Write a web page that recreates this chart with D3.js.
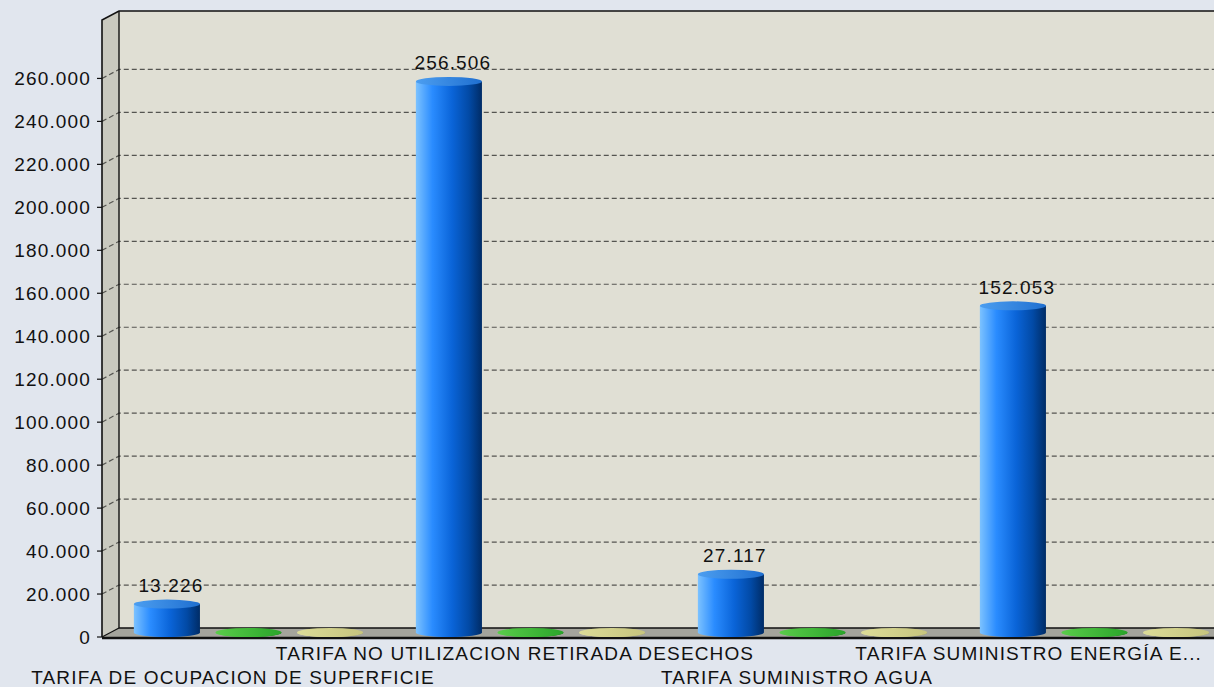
<!DOCTYPE html>
<html>
<head>
<meta charset="utf-8">
<script src="https://cdn.jsdelivr.net/npm/d3@7"></script>
<style>
  html, body { margin: 0; padding: 0; background: #e1e6ee; }
  svg { display: block; }
  text { font-family: "Liberation Sans", Arial, sans-serif; fill: #111; }
</style>
</head>
<body>
<svg id="chart" width="1214" height="687"></svg>
<script>
// Chart data
const categories = [
  "TARIFA DE OCUPACION DE SUPERFICIE",
  "TARIFA NO UTILIZACION RETIRADA DESECHOS",
  "TARIFA SUMINISTRO AGUA",
  "TARIFA SUMINISTRO ENERGÍA E..."
];
const seriesNames = ["Importe", "Pendiente", "Anulado"];
const importeValues = [13226, 256506, 27117, 152053];
const pendienteValues = [0, 0, 0, 0];
const anuladoValues = [0, 0, 0, 0];
const tickValues = [0, 20000, 40000, 60000, 80000, 100000, 120000, 140000, 160000, 180000, 200000, 220000, 240000, 260000];

const seriesValues = [importeValues, pendienteValues, anuladoValues];

const W = 1214, H = 687;
const svg = d3.select("#chart");

// 3D depth offset of the plot box
const DX = 17, DY = -9;
const plotLeft = 102, plotRight = 1240, plotTop = 20, plotBottom = 637;
const LS = "1.15px";

const fmt = d3.formatLocale({ decimal: ",", thousands: ".", grouping: [3], currency: ["", "€"] }).format(",d");

const y = d3.scaleLinear().domain([0, 287200]).range([plotBottom, plotTop]);
const x0 = d3.scaleBand().domain(categories).range([99, 1227]);
const x1 = d3.scaleBand().domain(seriesNames)
  .range([x0.bandwidth() * 0.066, x0.bandwidth() * 0.934]).paddingInner(0.19).paddingOuter(0.095);

const defs = svg.append("defs");
const palettes = [
  { body: ["#7cc2ff", "#2a8cff", "#0a64d8", "#024aa6", "#002c66"], top: ["#4c9ef0", "#1f6fd0"] },
  { body: ["#6fd86f", "#36b536", "#1e9a1e", "#157a15", "#0d5a0d"], top: ["#5acb4a", "#2aa52a"] },
  { body: ["#e6e6a8", "#d4d48c", "#c4c47a", "#aeae66", "#8f8f52"], top: ["#dcdc98", "#c6c47e"] }
];
palettes.forEach((p, i) => {
  const g = defs.append("linearGradient").attr("id", "body" + i).attr("x1", 0).attr("x2", 1).attr("y1", 0).attr("y2", 0);
  [0, 0.25, 0.55, 0.8, 1].forEach((o, k) => g.append("stop").attr("offset", o).attr("stop-color", p.body[k]));
  const t = defs.append("linearGradient").attr("id", "top" + i).attr("x1", 0).attr("x2", 1).attr("y1", 0).attr("y2", 0);
  t.append("stop").attr("offset", 0).attr("stop-color", p.top[0]);
  t.append("stop").attr("offset", 1).attr("stop-color", p.top[1]);
});

// Back wall
svg.append("rect")
  .attr("x", plotLeft + DX).attr("y", plotTop + DY)
  .attr("width", plotRight - plotLeft).attr("height", plotBottom - plotTop)
  .attr("fill", "#e0dfd4");

// Left side wall
svg.append("path")
  .attr("d", `M${plotLeft},${plotTop} L${plotLeft + DX},${plotTop + DY} L${plotLeft + DX},${plotBottom + DY} L${plotLeft},${plotBottom} Z`)
  .attr("fill", "#c9c9bf");

// Floor
svg.append("path")
  .attr("d", `M${plotLeft},${plotBottom} L${plotLeft + DX},${plotBottom + DY} L${plotRight + DX},${plotBottom + DY} L${plotRight},${plotBottom} Z`)
  .attr("fill", "#a4a49c");

// Gridlines (back wall + diagonal across side wall)
const grid = svg.append("g");
tickValues.filter(v => v > 0).forEach(v => {
  const yf = y(v);
  grid.append("path")
    .attr("d", `M${plotLeft},${yf} L${plotLeft + DX},${yf + DY} L${plotRight + DX},${yf + DY}`)
    .attr("fill", "none").attr("stroke", "#555551").attr("stroke-width", 1.2)
    .attr("stroke-dasharray", "5,3");
});

// Box edges
const edge = svg.append("g").attr("fill", "none").attr("stroke", "#111");
edge.append("path").attr("d", `M${plotLeft},${plotBottom} L${plotLeft},${plotTop} L${plotLeft + DX},${plotTop + DY} L${plotRight + DX},${plotTop + DY}`).attr("stroke-width", 1.6);
edge.append("path").attr("d", `M${plotLeft + DX},${plotTop + DY} L${plotLeft + DX},${plotBottom + DY} L${plotRight + DX},${plotBottom + DY}`).attr("stroke-width", 1.4);
edge.append("path").attr("d", `M${plotLeft},${plotBottom} L${plotLeft + DX},${plotBottom + DY}`).attr("stroke-width", 1.2);
edge.append("path").attr("d", `M${plotLeft},${plotBottom + 1} L${plotRight},${plotBottom + 1}`).attr("stroke-width", 2.4);

// Y axis ticks and labels
const yAxis = svg.append("g");
tickValues.forEach(v => {
  const yf = y(v);
  yAxis.append("line").attr("x1", plotLeft - 5).attr("x2", plotLeft).attr("y1", yf).attr("y2", yf)
    .attr("stroke", "#111").attr("stroke-width", 1.2);
  yAxis.append("text")
    .attr("x", 91).attr("y", yf).attr("dy", "0.36em")
    .attr("text-anchor", "end")
    .style("font-size", "19px").style("letter-spacing", LS)
    .text(fmt(v));
});

// Cylinders (drawn at mid depth)
const RY = 4.5;
const mx = DX / 2, my = DY / 2;
const bars = svg.append("g");
categories.forEach((c, ci) => {
  seriesNames.forEach((s, si) => {
    const v = seriesValues[si][ci];
    const cx = x0(c) + x1(s) + x1.bandwidth() / 2 + mx;
    const rx = x1.bandwidth() / 2;
    const yb = y(0) + my;
    const yt = y(v) + my;
    const g = bars.append("g");
    // body with rounded bottom
    g.append("path")
      .attr("d", `M${cx - rx},${yt} L${cx - rx},${yb} A${rx},${RY} 0 0 0 ${cx + rx},${yb} L${cx + rx},${yt} Z`)
      .attr("fill", `url(#body${si})`);
    // top cap
    g.append("ellipse")
      .attr("cx", cx).attr("cy", yt).attr("rx", rx).attr("ry", RY)
      .attr("fill", `url(#top${si})`);
    if (v > 0) {
      svg.append("text")
        .attr("x", cx + 4).attr("y", yt - 12)
        .attr("text-anchor", "middle")
        .style("font-size", "19px").style("letter-spacing", LS)
        .text(fmt(v));
    }
  });
});

// Category labels, staggered on two rows
const catLabels = svg.append("g");
categories.forEach((c, ci) => {
  const t = catLabels.append("text")
    .attr("y", ci % 2 === 0 ? 684 : 660)
    .attr("text-anchor", "middle")
    .style("font-size", "19px").style("letter-spacing", LS)
    .text(c);
  let cx = x0(c) + x0.bandwidth() / 2 - 7;
  const w = t.node().getComputedTextLength();
  if (cx + w / 2 > W - 12) cx = W - 12 - w / 2;
  t.attr("x", cx);
});
</script>
</body>
</html>
